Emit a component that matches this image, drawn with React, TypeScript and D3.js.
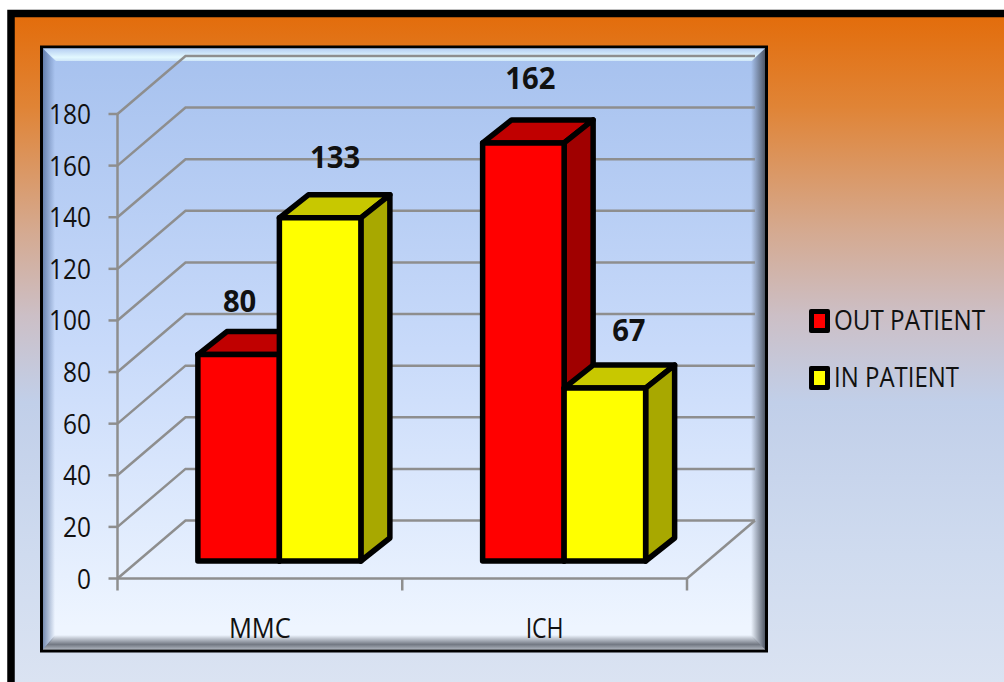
import React from "react";
import * as d3 from "d3";

const categories = ["MMC", "ICH"];
const seriesNames = ["OUT PATIENT", "IN PATIENT"];
const outPatient = [80, 162];
const inPatient = [133, 67];
const yTicks = [0, 20, 40, 60, 80, 100, 120, 140, 160, 180];

const palette = [
  { front: "#ff0000", top: "#c00000", side: "#a00000" },
  { front: "#ffff00", top: "#c8c800", side: "#a8a800" },
];

// Hand offsets of the value labels from the top-centre of each column
const labelNudge = [
  [{ dx: 1, dy: -43 }, { dx: 15, dy: -50 }],
  [{ dx: 7, dy: -54 }, { dx: 24, dy: -47 }],
];

const FONT = "'Open Sans', sans-serif";
const axisX0 = 117.5;
const axisX1 = 687;
const axisY0 = 578.5;
const axisY1 = 114;
const wallDx = 68;
const wallDy = -58;
const barDx = 29;
const barDy = -23;
const floorLift = 17.5;
const grey = "#8e8e8e";

const y = d3.scaleLinear().domain([0, 180]).range([axisY0, axisY1]);
const xCat = d3.scaleBand<string>().domain(categories).range([axisX0, axisX1]);
const xBar = d3.scaleBand<number>().domain([0, 1]).range([0, 163]);

const poly = (pts: [number, number][]) => pts.map((p) => p.join(",")).join(" ");
const groupLeft = (c: string) => xCat(c)! + xCat.bandwidth() / 2 - 81.5 + 19.5;

function Column({ x0, x1, value, colors }: { x0: number; x1: number; value: number; colors: (typeof palette)[0] }) {
  const top = y(value) - floorLift;
  const base = y(0) - floorLift;
  return (
    <g stroke="#000" strokeWidth={5.5} strokeLinejoin="round">
      <polygon fill={colors.top} points={poly([[x0, top], [x0 + barDx, top + barDy], [x1 + barDx, top + barDy], [x1, top]])} />
      <polygon fill={colors.side} points={poly([[x1, top], [x1 + barDx, top + barDy], [x1 + barDx, base + barDy], [x1, base]])} />
      <rect x={x0} y={top} width={x1 - x0} height={base - top} fill={colors.front} />
    </g>
  );
}

export default function App() {
  const series = [outPatient, inPatient];
  return (
    <svg width={1004} height={682} style={{ position: "absolute", left: 0, top: 0 }} fontFamily={FONT}>
      <defs>
        <linearGradient id="page" x1="0" y1="0" x2="0" y2="1">
          <stop offset="0" stopColor="#e36c0a" />
          <stop offset="0.13" stopColor="#e08436" />
          <stop offset="0.3" stopColor="#d5a98f" />
          <stop offset="0.42" stopColor="#ccbfc6" />
          <stop offset="0.54" stopColor="#c1cfe9" />
          <stop offset="0.75" stopColor="#cfdbef" />
          <stop offset="1" stopColor="#dfe6f3" />
        </linearGradient>
        <linearGradient id="plate" x1="0" y1="0" x2="0" y2="1">
          <stop offset="0" stopColor="#a6c1ee" />
          <stop offset="0.5" stopColor="#c8dafa" />
          <stop offset="0.96" stopColor="#eef5ff" />
          <stop offset="1" stopColor="#eef5ff" />
        </linearGradient>
        <linearGradient id="bevelLeft" x1="0" y1="0" x2="1" y2="0">
          <stop offset="0" stopColor="#4f6a98" stopOpacity={0.75} />
          <stop offset="1" stopColor="#4f6a98" stopOpacity={0} />
        </linearGradient>
        <linearGradient id="bevelRight" x1="0" y1="0" x2="1" y2="0">
          <stop offset="0" stopColor="#4a5260" stopOpacity={0} />
          <stop offset="1" stopColor="#4a5260" stopOpacity={0.95} />
        </linearGradient>
        <linearGradient id="bevelBottom" x1="0" y1="0" x2="0" y2="1">
          <stop offset="0" stopColor="#4a4f5a" stopOpacity={0} />
          <stop offset="0.65" stopColor="#4a4f5a" stopOpacity={0.75} />
          <stop offset="1" stopColor="#4a4f5a" stopOpacity={0.4} />
        </linearGradient>
        <linearGradient id="bevelTop" x1="0" y1="0" x2="0" y2="1">
          <stop offset="0" stopColor="#b5cef2" />
          <stop offset="0.7" stopColor="#e2f8ff" />
          <stop offset="1" stopColor="#cfe6f8" />
        </linearGradient>
      </defs>

      {/* Slide background and heavy frame */}
      <rect x={11} y={13.5} width={1040} height={720} fill="url(#page)" stroke="#000" strokeWidth={7.5} />

      {/* Chart plate with a bevelled edge */}
      <rect x={41.5} y={47} width={725} height={604} fill="url(#plate)" stroke="#000" strokeWidth={3} />
      <polygon fill="url(#bevelTop)" points={poly([[43, 48.5], [765, 48.5], [752, 61], [56, 61]])} />
      <polygon fill="url(#bevelLeft)" points={poly([[43, 48.5], [55, 61], [55, 637], [43, 649.5]])} />
      <polygon fill="url(#bevelRight)" points={poly([[765, 48.5], [765, 649.5], [751, 636], [751, 61]])} />
      <polygon fill="url(#bevelBottom)" points={poly([[43, 649.5], [55, 635], [751, 635], [765, 649.5]])} />

      {/* Back wall gridlines and their runs along the side wall */}
      {yTicks.map((t) => (
        <polyline
          key={t}
          points={poly([[axisX0, y(t)], [axisX0 + wallDx, y(t) + wallDy], [axisX1 + wallDx, y(t) + wallDy]])}
          fill="none"
          stroke={grey}
          strokeWidth={2.5}
        />
      ))}
      <line x1={axisX1} y1={y(0)} x2={axisX1 + wallDx} y2={y(0) + wallDy} stroke={grey} strokeWidth={2.5} />

      {/* Value axis */}
      <line x1={axisX0} y1={y(180)} x2={axisX0} y2={y(0) + 12} stroke={grey} strokeWidth={2.5} />
      {yTicks.map((t) => (
        <g key={t}>
          <line x1={axisX0 - 9} y1={y(t)} x2={axisX0} y2={y(t)} stroke={grey} strokeWidth={2.5} />
          <text
            x={91}
            y={y(t) + 10}
            textAnchor="end"
            fontSize={27}
            fill="#111"
            textLength={String(t).length * 14}
            lengthAdjust="spacingAndGlyphs"
          >
            {t}
          </text>
        </g>
      ))}

      {/* Category axis */}
      <line x1={axisX0} y1={y(0)} x2={axisX1} y2={y(0)} stroke={grey} strokeWidth={2.5} />
      {[axisX0 + xCat.bandwidth(), axisX1].map((tx) => (
        <line key={tx} x1={tx} y1={y(0)} x2={tx} y2={y(0) + 12} stroke={grey} strokeWidth={2.5} />
      ))}
      {categories.map((c) => (
        <text
          key={c}
          x={xCat(c)! + xCat.bandwidth() / 2}
          y={638}
          textAnchor="middle"
          fontSize={28}
          fill="#111"
          textLength={c === "MMC" ? 62 : 38}
          lengthAdjust="spacingAndGlyphs"
        >
          {c}
        </text>
      ))}

      {/* Columns, drawn left to right so each hides the previous one's side */}
      {categories.map((c, ci) => (
        <g key={c}>
          {series.map((vals, si) => (
            <Column
              key={si}
              x0={groupLeft(c) + xBar(si)!}
              x1={groupLeft(c) + xBar(si)! + xBar.bandwidth()}
              value={vals[ci]}
              colors={palette[si]}
            />
          ))}
        </g>
      ))}

      {/* Value labels */}
      {categories.map((c, ci) =>
        series.map((vals, si) => (
          <text
            key={c + si}
            x={groupLeft(c) + xBar(si)! + xBar.bandwidth() / 2 + labelNudge[ci][si].dx}
            y={y(vals[ci]) - floorLift + labelNudge[ci][si].dy}
            textAnchor="middle"
            fontSize={31}
            fontWeight={700}
            fill="#111"
            textLength={String(vals[ci]).length * 16.7}
            lengthAdjust="spacingAndGlyphs"
          >
            {vals[ci]}
          </text>
        ))
      )}

      {/* Legend */}
      {seriesNames.map((name, i) => {
        const ly = 309 + i * 57;
        return (
          <g key={name}>
            <rect x={809} y={ly} width={21} height={24} rx={2} fill="#000" />
            <rect x={814} y={ly + 5} width={11} height={14} fill={palette[i].front} />
            <text
              x={834}
              y={ly + 21}
              fontSize={27}
              fill="#111"
              textLength={i === 0 ? 151 : 125}
              lengthAdjust="spacingAndGlyphs"
            >
              {name}
            </text>
          </g>
        );
      })}
    </svg>
  );
}
